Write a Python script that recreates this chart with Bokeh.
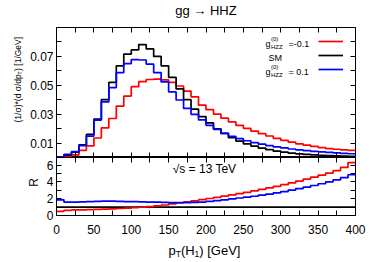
import math
from bokeh.plotting import figure
from bokeh.models import Range1d, LinearAxis, FixedTicker, Label, Legend, LegendItem
from bokeh.layouts import column
from bokeh.embed import file_html
from bokeh.resources import INLINE

# ---------------- data ----------------
bin_edges = list(range(0, 410, 10))  # 10 GeV bins, 0..400

sm_hist = [0.0005, 0.0017, 0.0037, 0.0088, 0.0160, 0.0265, 0.0400, 0.0520, 0.0635, 0.0716,
           0.0745, 0.0782, 0.0752, 0.0700, 0.0635, 0.0555, 0.0475, 0.0400, 0.0335, 0.0283,
           0.0240, 0.0199, 0.0167, 0.0137, 0.0114, 0.0095, 0.0079, 0.0065, 0.0054, 0.0044,
           0.0037, 0.0030, 0.0025, 0.0021, 0.0018, 0.0015, 0.0013, 0.0011, 0.0009, 0.0008]

neg_hist = [0.0002, 0.0008, 0.0018, 0.0050, 0.0080, 0.0135, 0.0205, 0.0270, 0.0355, 0.0425,
            0.0490, 0.0525, 0.0540, 0.0543, 0.0538, 0.0520, 0.0495, 0.0460, 0.0420, 0.0362,
            0.0332, 0.0300, 0.0272, 0.0246, 0.0223, 0.0202, 0.0183, 0.0165, 0.0149, 0.0133,
            0.0119, 0.0106, 0.0095, 0.0085, 0.0077, 0.0069, 0.0062, 0.0057, 0.0053, 0.0050]

pos_hist = [0.0004, 0.0021, 0.0040, 0.0082, 0.0148, 0.0259, 0.0385, 0.0484, 0.0588, 0.0650,
            0.0678, 0.0675, 0.0647, 0.0588, 0.0523, 0.0454, 0.0398, 0.0340, 0.0299, 0.0260,
            0.0223, 0.0195, 0.0167, 0.0146, 0.0130, 0.0116, 0.0103, 0.0092, 0.0082, 0.0073,
            0.0066, 0.0059, 0.0053, 0.0048, 0.0043, 0.0039, 0.0035, 0.0032, 0.0029, 0.0026]

neg_ratio = [0.50, 0.62, 0.66, 0.68, 0.70, 0.73, 0.76, 0.79, 0.83, 0.87,
             0.92, 0.98, 1.05, 1.15, 1.25, 1.38, 1.50, 1.62, 1.75, 1.88,
             2.02, 2.15, 2.30, 2.45, 2.60, 2.76, 2.93, 3.10, 3.28, 3.47,
             3.67, 3.88, 4.10, 4.33, 4.56, 4.80, 5.05, 5.35, 5.72, 6.30]

pos_ratio = [1.86, 1.58, 1.60, 1.62, 1.65, 1.68, 1.70, 1.70, 1.68, 1.66,
             1.64, 1.62, 1.60, 1.58, 1.56, 1.54, 1.52, 1.52, 1.55, 1.60,
             1.68, 1.76, 1.86, 1.97, 2.08, 2.18, 2.29, 2.42, 2.55, 2.70,
             2.85, 3.02, 3.20, 3.38, 3.57, 3.78, 4.00, 4.24, 4.50, 4.85]

sm_ratio = [1.0] * 40

x_ticks = [0, 50, 100, 150, 200, 250, 300, 350, 400]
x_minor = [25, 75, 125, 175, 225, 275, 325, 375]
y_ticks_top = [0.01, 0.03, 0.05, 0.07]
y_minor_top = [0.02, 0.04, 0.06, 0.08]
y_ticks_bot = [0, 2, 4, 6]
y_minor_bot = [1, 3, 5]

RED, BLACK, BLUE = "#ff0000", "#000000", "#0000ff"
FONT = "Liberation Sans"
LW = 1.7


def stepped(vals):
    return bin_edges, list(vals) + [vals[-1]]


def add_axis(p, loc, ticks, minor, show_labels, overrides=None):
    if show_labels:
        ax = LinearAxis(ticker=FixedTicker(ticks=ticks, minor_ticks=minor))
        ax.major_label_text_font = FONT
        ax.major_label_text_font_size = "12px"
        ax.major_label_text_color = "black"
        ax.major_label_standoff = 3 if loc == "left" else 9
        if overrides:
            ax.major_label_overrides = overrides
    else:
        # only (unlabelled) inward ticks on the mirrored sides
        ax = LinearAxis(ticker=FixedTicker(ticks=[], minor_ticks=sorted(ticks + minor)))
        ax.major_label_standoff = 0
    ax.axis_line_color = None
    ax.major_tick_in = 5
    ax.major_tick_out = 0
    ax.minor_tick_in = 5
    ax.minor_tick_out = 0
    ax.major_tick_line_color = "black"
    ax.minor_tick_line_color = "black"
    p.add_layout(ax, loc)
    return ax


def style(p):
    p.grid.grid_line_color = None
    p.outline_line_color = "black"
    p.outline_line_width = 1
    p.background_fill_color = "white"
    p.border_fill_color = "white"


def label(p, place, x, y, text, size, **kw):
    lab = Label(x=x, y=y, x_units="canvas", y_units="canvas", text=text,
                text_font=FONT, text_font_size=size, text_color="black", **kw)
    if place == "center":
        p.add_layout(lab)
    else:
        p.add_layout(lab, place)


# ---------------- top panel ----------------
p1 = figure(frame_width=299, frame_height=130, x_range=Range1d(0, 400), y_range=Range1d(0, 0.09),
            output_backend="svg", toolbar_location=None,
            x_axis_location=None, y_axis_location=None,
            min_border_left=56, min_border_right=18, min_border_top=27, min_border_bottom=0)
style(p1)
add_axis(p1, "left", y_ticks_top, y_minor_top, True,
         {0.01: "0.01", 0.03: "0.03", 0.05: "0.05", 0.07: "0.07"})
add_axis(p1, "right", y_ticks_top, y_minor_top, False)
add_axis(p1, "below", x_ticks, x_minor, False)
add_axis(p1, "above", x_ticks, x_minor, False)

xs, ys = stepped(neg_hist)
r_neg = p1.step(xs, ys, mode="after", line_color=RED, line_width=LW)
xs, ys = stepped(sm_hist)
r_sm = p1.step(xs, ys, mode="after", line_color=BLACK, line_width=LW)
xs, ys = stepped(pos_hist)
r_pos = p1.step(xs, ys, mode="after", line_color=BLUE, line_width=LW)

legend = Legend(items=[LegendItem(label=" ", renderers=[r_neg]),
                       LegendItem(label=" ", renderers=[r_sm]),
                       LegendItem(label=" ", renderers=[r_pos])],
                location=(262, 81), orientation="vertical", padding=0, margin=0, spacing=0,
                glyph_width=25, glyph_height=14, label_width=0, label_height=14,
                label_standoff=0, label_text_font_size="1px",
                border_line_color=None, background_fill_alpha=0)
p1.add_layout(legend)

# title (canvas coordinates of the top figure)
label(p1, "above", 205.5, 2, "gg \u2192 HHZ", "13px", text_align="center", text_baseline="top")

# rotated y label with subscript T
ang = math.pi / 2
label(p1, "left", 17, 122, "(1/\u03c3)*(d \u03c3/dp", "8.5px", angle=ang, text_align="left", text_baseline="middle")
label(p1, "left", 19, 74.3, "T", "6px", angle=ang, text_align="left", text_baseline="middle")
label(p1, "left", 17, 70.4, ") [1/GeV]", "8.5px", angle=ang, text_align="left", text_baseline="middle")

# legend texts (inside the frame)
label(p1, "center", 265, 43, "g", "9px", text_align="left", text_baseline="alphabetic")
label(p1, "center", 270.5, 38.5, "(0)", "6px", text_align="left", text_baseline="alphabetic")
label(p1, "center", 270.5, 46.5, "HZZ", "6px", text_align="left", text_baseline="alphabetic")
label(p1, "center", 288, 43, "=-0.1", "9px", text_align="left", text_baseline="alphabetic")
label(p1, "center", 268, 57, "SM", "9px", text_align="left", text_baseline="alphabetic")
label(p1, "center", 265, 71, "g", "9px", text_align="left", text_baseline="alphabetic")
label(p1, "center", 270.5, 66.5, "(0)", "6px", text_align="left", text_baseline="alphabetic")
label(p1, "center", 270.5, 74.5, "HZZ", "6px", text_align="left", text_baseline="alphabetic")
label(p1, "center", 288, 71, "= 0.1", "9px", text_align="left", text_baseline="alphabetic")

# ---------------- bottom panel ----------------
p2 = figure(frame_width=299, frame_height=58, x_range=Range1d(0, 400), y_range=Range1d(0, 6.9),
            output_backend="svg", toolbar_location=None,
            x_axis_location=None, y_axis_location=None,
            min_border_left=56, min_border_right=18, min_border_top=0, min_border_bottom=46)
style(p2)
add_axis(p2, "left", y_ticks_bot, y_minor_bot, True)
add_axis(p2, "right", y_ticks_bot, y_minor_bot, False)
add_axis(p2, "below", x_ticks, x_minor, True)
add_axis(p2, "above", x_ticks, x_minor, False)

xs, ys = stepped(sm_ratio)
p2.step(xs, ys, mode="after", line_color=BLACK, line_width=LW)
xs, ys = stepped(neg_ratio)
p2.step(xs, ys, mode="after", line_color=RED, line_width=LW)
xs, ys = stepped(pos_ratio)
p2.step(xs, ys, mode="after", line_color=BLUE, line_width=LW)

label(p2, "center", 204, 11, "\u221as = 13 TeV", "12px", text_align="center", text_baseline="middle")
label(p2, "left", 33, 25, "R", "12px", angle=ang, text_align="center", text_baseline="middle")

# x label p_T(H_1) [GeV]  (canvas coordinates of the bottom figure)
label(p2, "right", 168, 93, "p", "13px", text_align="left", text_baseline="alphabetic")
label(p2, "left", 175.2, 96, "T", "8.5px", text_align="left", text_baseline="alphabetic")
label(p2, "left", 180.4, 93, "(H", "13px", text_align="left", text_baseline="alphabetic")
label(p2, "left", 194.1, 96, "1", "8.5px", text_align="left", text_baseline="alphabetic")
label(p2, "below", 198.8, 93, ") [GeV]", "13px", text_align="left", text_baseline="alphabetic")

layout = column(p1, p2, spacing=0)
open("out.html", "w").write(file_html(layout, INLINE))
